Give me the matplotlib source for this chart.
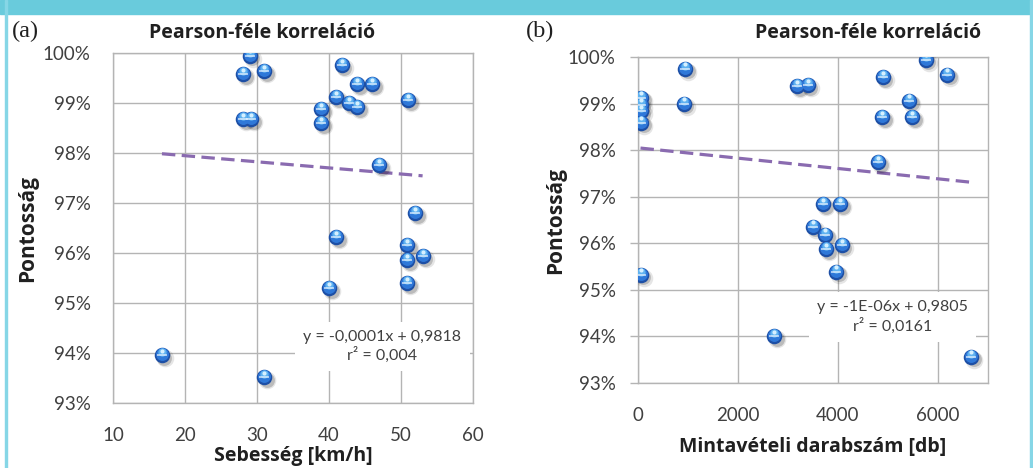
import matplotlib
matplotlib.use("Agg")
import matplotlib.pyplot as plt
import numpy as np
from matplotlib import transforms
from matplotlib.patches import Rectangle
from matplotlib.ticker import PercentFormatter

# (a) speed vs accuracy
speed = [29.0, 28.1, 31.0, 41.8, 43.9, 46.0, 41.0, 42.8, 43.9, 51.0, 38.9, 38.9,
         28.1, 29.2, 47.0, 52.0, 41.0, 50.9, 50.9, 53.0, 50.9, 40.0, 16.8, 31.0]
acc_a = [0.9995, 0.9958, 0.9964, 0.9976, 0.9938, 0.9938, 0.9912, 0.9900, 0.9892,
         0.9906, 0.9888, 0.9860, 0.9868, 0.9868, 0.9776, 0.9680, 0.9632, 0.9616,
         0.9586, 0.9594, 0.9540, 0.9530, 0.9396, 0.9352]
trend_a = (-0.000122, 0.9819)
eq_a = "y = -0,0001x + 0,9818\nr² = 0,004"

# (b) sample count vs accuracy
count = [60, 50, 50, 60, 940, 910, 3180, 3390, 4890, 5750, 6180, 5420, 4880, 5480,
         4800, 3700, 4040, 3490, 3745, 3760, 4075, 3965, 55, 2720, 6660]
acc_b = [0.9912, 0.9897, 0.9884, 0.9859, 0.9975, 0.9900, 0.9937, 0.9939, 0.9956,
         0.9994, 0.9962, 0.9906, 0.9871, 0.9871, 0.9774, 0.9684, 0.9684, 0.9636,
         0.9618, 0.9587, 0.9596, 0.9539, 0.9532, 0.9400, 0.9356]
trend_b = (-1.11e-06, 0.9805)
eq_b = "y = -1E-06x + 0,9805\nr² = 0,0161"

TITLE = "Pearson-féle korreláció"
FONT = ["Lato", "DejaVu Sans"]
BOLD = ["Open Sans", "DejaVu Sans"]
GRID = "#b4b4b4"
TEXT = "#404040"
TREND = "#8a6bb0"

plt.rcParams["font.family"] = FONT


def draw_spheres(ax, x, y):
    """Fake the glossy Excel balls with a few stacked scatter layers."""
    fig = ax.figure

    def off(dx, dy):
        return transforms.offset_copy(ax.transData, fig=fig, x=dx, y=dy,
                                      units="dots")

    ax.scatter(x, y, s=160, color="#000000", alpha=0.10, lw=0,
               transform=off(3, -3), zorder=3)
    ax.scatter(x, y, s=115, color="#000000", alpha=0.18, lw=0,
               transform=off(2.5, -2.5), zorder=3)
    ax.scatter(x, y, s=125, color="#1d4fa5", lw=0, zorder=4)
    ax.scatter(x, y, s=86, color="#2f78d8", lw=0, transform=off(0, 1),
               zorder=5)
    ax.scatter(x, y, s=36, color="#5fb2f0", lw=0, transform=off(0, 3),
               zorder=6)
    ax.scatter(x, y, s=9, color="#d6f0ff", lw=0, transform=off(0, 4.5),
               zorder=7)
    ax.scatter(x, y, s=60, marker="_", color="#e8f4ff", lw=1.2, alpha=0.8,
               zorder=7)


def style_axes(ax, xlim, xticks, tick_len):
    ax.set_xlim(*xlim)
    ax.set_ylim(0.93, 1.0)
    ax.set_xticks(xticks)
    ax.set_yticks(np.arange(0.93, 1.0001, 0.01))
    ax.yaxis.set_major_formatter(PercentFormatter(1.0, decimals=0))
    ax.grid(True, color=GRID, lw=1.0)
    ax.set_axisbelow(True)
    for sp in ax.spines.values():
        sp.set_color(GRID)
        sp.set_linewidth(1.0)
    ax.tick_params(axis="x", length=0, pad=17, labelsize=13.5,
                   labelcolor=TEXT)
    ax.tick_params(axis="y", length=tick_len, width=1.0, color=GRID,
                   pad=16 - tick_len, labelsize=13.5, labelcolor=TEXT)


def panel(ax, x, y, trend, eq, eq_pos, xlabel, xlab_y, ylab_x):
    x = np.asarray(x)
    y = np.asarray(y)
    xs = np.array([x.min(), x.max()])
    ax.plot(xs, trend[0] * xs + trend[1], color=TREND, lw=2.3,
            dashes=(4.2, 2.0), zorder=2)
    draw_spheres(ax, x, y)
    ax.text(eq_pos[0], eq_pos[1], eq, ha="center", va="center",
            fontsize=11.5, color=TEXT, linespacing=1.25, zorder=2.5,
            bbox=dict(facecolor="white", edgecolor="none", pad=6))
    ax.set_ylabel("Pontosság", fontsize=15, fontweight="bold",
                  color="#202020", family=BOLD)
    ax.yaxis.set_label_coords(ylab_x, 0.5)
    ax.yaxis.label.set_verticalalignment("center")
    ax.yaxis.label.set_horizontalalignment("center")
    ax.set_xlabel(xlabel, fontsize=14, fontweight="bold", color="#202020",
                  family=BOLD)
    ax.xaxis.set_label_coords(0.5, xlab_y)
    ax.xaxis.label.set_verticalalignment("center")


fig = plt.figure(figsize=(10.33, 4.68), dpi=100)

# frame decoration: cyan band on top and thin side borders
fig.patches.append(Rectangle((0, 1 - 14 / 468), 1, 14 / 468,
                             transform=fig.transFigure, color="#69cbdc",
                             zorder=0))
fig.patches.append(Rectangle((5 / 1033, 0), 2 / 1033, 1,
                             transform=fig.transFigure, color="#86d6e6",
                             zorder=0))
fig.patches.append(Rectangle((1030 / 1033, 0), 3 / 1033, 1,
                             transform=fig.transFigure, color="#86d6e6",
                             zorder=0))

ax_a = fig.add_axes([113 / 1033, 65 / 468, 360 / 1033, 350 / 468])
style_axes(ax_a, (10, 60), np.arange(10, 61, 10), 0)
panel(ax_a, speed, acc_a, trend_a, eq_a, (47.4, 0.9413),
      "Sebesség [km/h]", -0.15, (28 - 113) / 360)

ax_b = fig.add_axes([638 / 1033, 85 / 468, 350 / 1033, 326 / 468])
style_axes(ax_b, (0, 7000), np.arange(0, 6001, 2000), 6)
panel(ax_b, count, acc_b, trend_b, eq_b, (5090, 0.9442),
      "Mintavételi darabszám [db]", -0.196, (556 - 638) / 350)

for cx, lx, lab in [(262, 12, "(a)"), (868, 526, "(b)")]:
    fig.text(cx / 1033, 1 - 33 / 468, TITLE, ha="center", va="center",
             fontsize=14, fontweight="bold", color="#202020", family=BOLD)
    fig.text(lx / 1033, 1 - 31 / 468, lab, ha="left", va="center",
             fontsize=17.5, family=["Liberation Serif", "DejaVu Serif"],
             color="#202020")

fig.savefig("out.png", dpi=100, facecolor="white")
